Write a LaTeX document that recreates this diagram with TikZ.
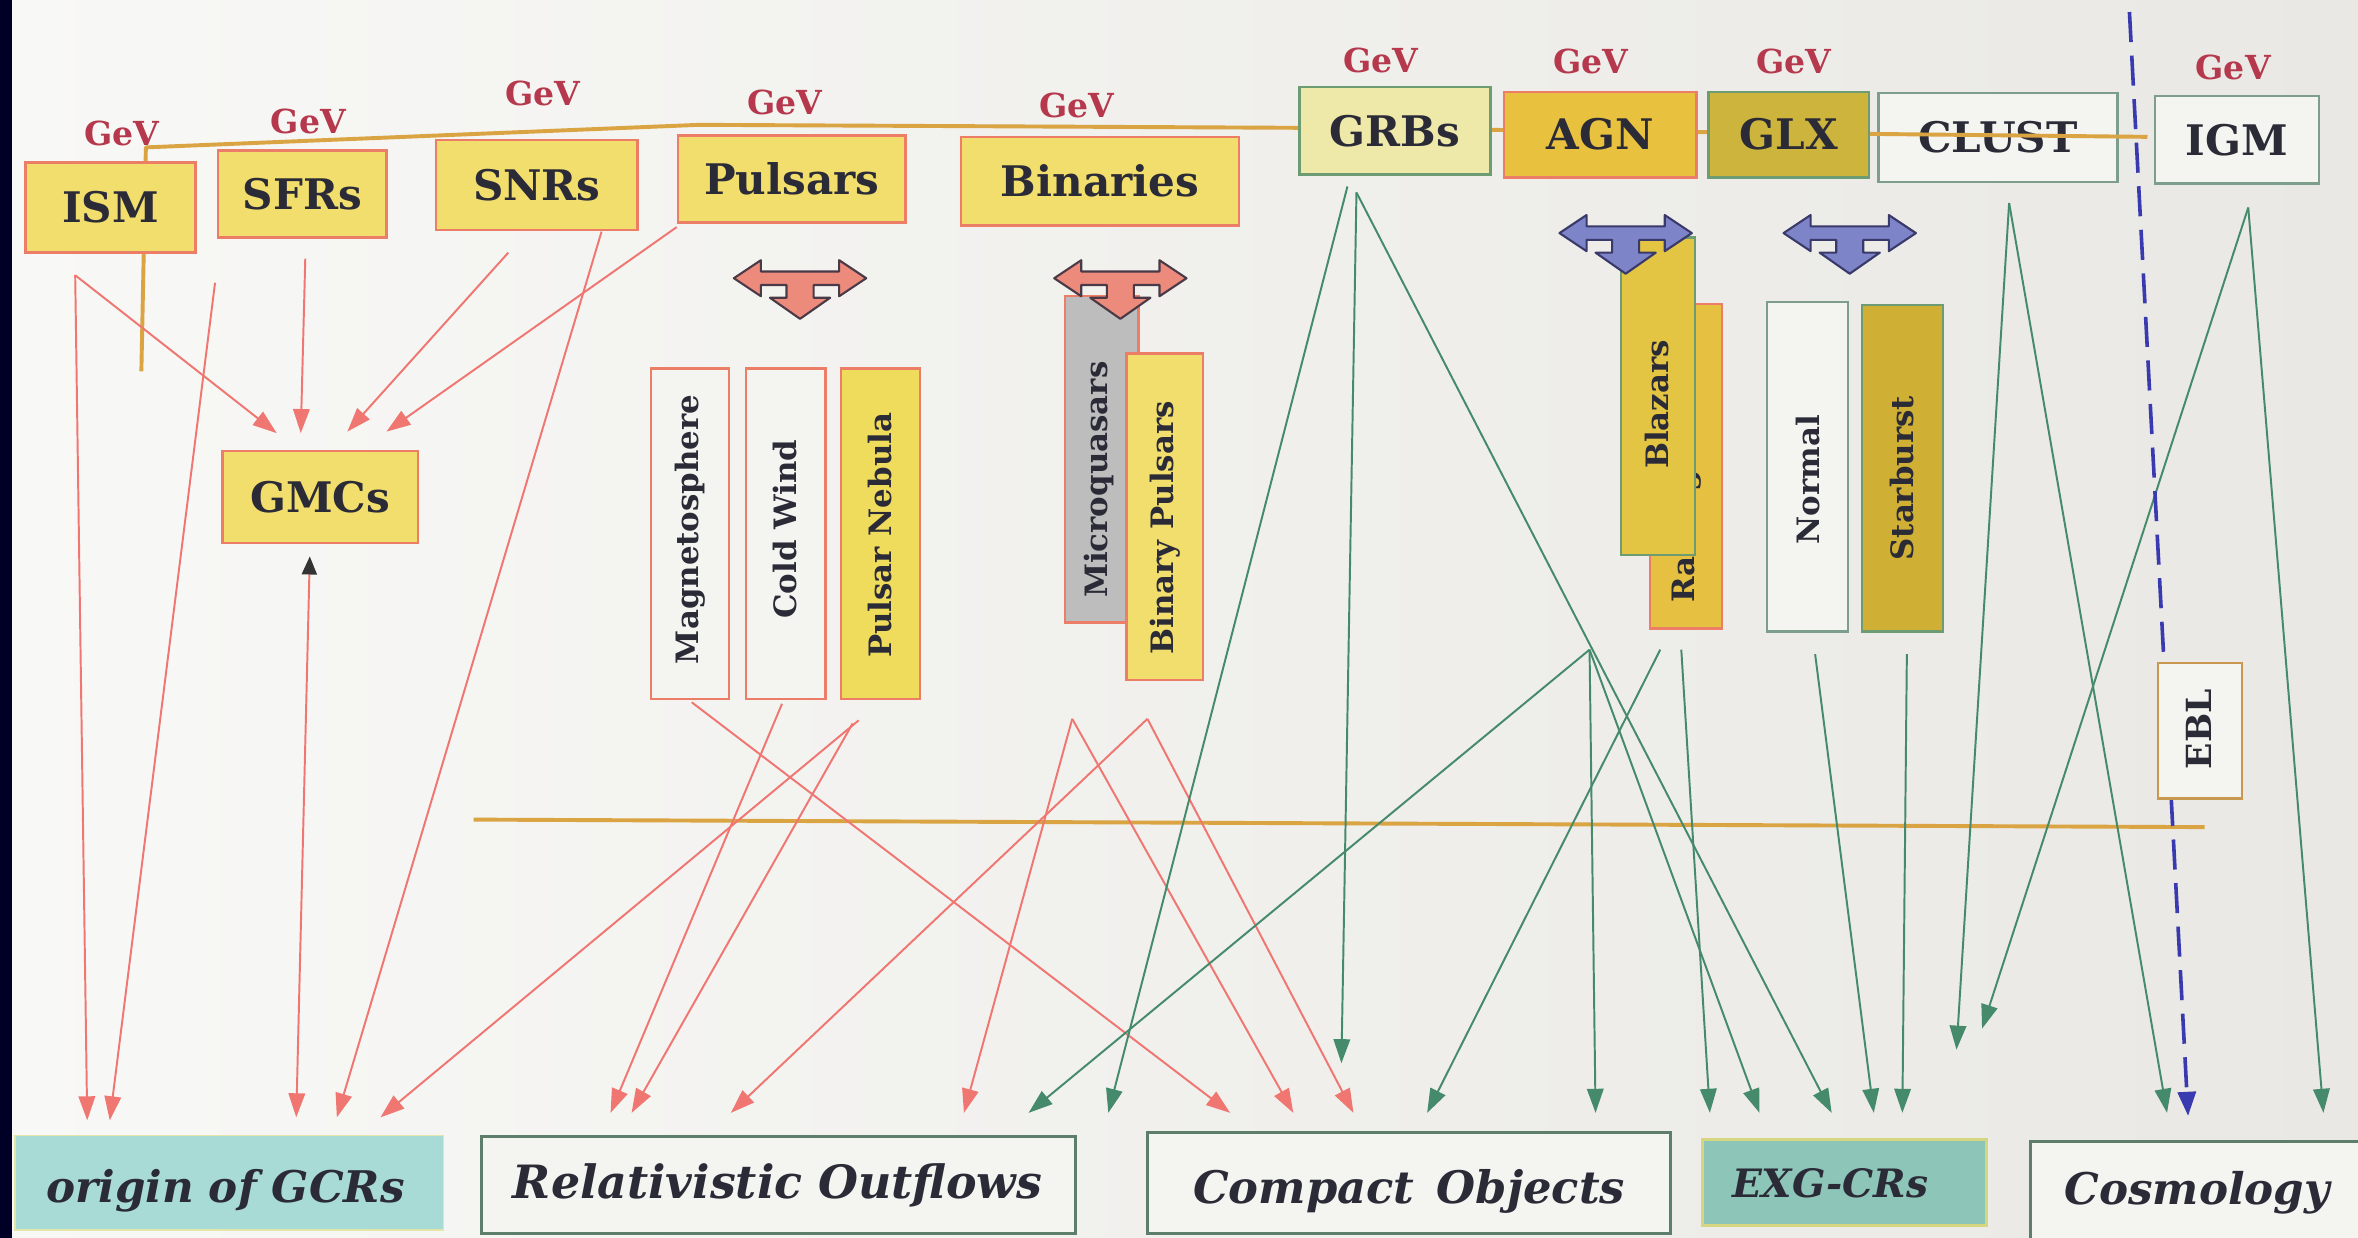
\documentclass[tikz,border=0pt]{standalone}
\usepackage{fontspec}
\setmainfont{DejaVu Serif}
\usetikzlibrary{arrows.meta}
\definecolor{bgl}{HTML}{F8F8F6}
\definecolor{bgr}{HTML}{E9E8E4}
\definecolor{byel}{HTML}{F2DE6C}
\definecolor{bred}{HTML}{EC7D66}
\definecolor{bgreen}{HTML}{6E9C72}
\definecolor{grbf}{HTML}{EEE9A8}
\definecolor{agnf}{HTML}{E8C23F}
\definecolor{glxf}{HTML}{CDB43C}
\definecolor{wbox}{HTML}{F4F4F0}
\definecolor{gbord}{HTML}{7E9E8C}
\definecolor{txt}{HTML}{2B2B38}
\definecolor{gevc}{HTML}{B5384C}
\definecolor{lred}{HTML}{F07672}
\definecolor{lgrn}{HTML}{468A6C}
\definecolor{orl}{HTML}{D9A441}
\definecolor{blu}{HTML}{3A3AB0}
\definecolor{tredf}{HTML}{EC8A7C}
\definecolor{tredd}{HTML}{4A3A48}
\definecolor{tbluf}{HTML}{7D84C8}
\definecolor{tblud}{HTML}{3A3A6A}
\definecolor{pnf}{HTML}{F0DC5C}
\definecolor{mqf}{HTML}{BDBDBD}
\definecolor{radf}{HTML}{E6C040}
\definecolor{blzf}{HTML}{E3C543}
\definecolor{sbf}{HTML}{CFB034}
\definecolor{eblb}{HTML}{C89850}
\definecolor{origf}{HTML}{A8DAD6}
\definecolor{origb}{HTML}{E3E6A8}
\definecolor{exgf}{HTML}{8DC5B8}
\definecolor{exgb}{HTML}{D6D680}
\definecolor{botb}{HTML}{5E7E6C}
\begin{document}
\begin{tikzpicture}[x=1pt,y=-1pt,
  tbox/.style={draw=bred, fill=byel, line width=1.6pt, inner sep=0pt, text=txt, font=\bfseries\fontsize{28}{30}\selectfont},
  vbox/.style={line width=1.5pt, inner sep=0pt},
  vlbl/.style={rotate=90, inner sep=0pt, text=txt, font=\bfseries\fontsize{20.5}{22}\selectfont},
  gev/.style={text=gevc, inner sep=0pt, font=\bfseries\fontsize{22}{24}\selectfont},
  bbox/.style={inner sep=0pt, line width=2pt},
  blbl/.style={inner sep=0pt, text=txt, font=\bfseries\itshape\fontsize{29}{31}\selectfont},
  rl/.style={draw=lred, line width=1.3pt, -{Triangle[length=16pt,width=11pt]}},
  gl/.style={draw=lgrn, line width=1.3pt, -{Triangle[length=16pt,width=11pt]}},
  tshape/.pic={\path[pic actions] (-44,0) -- (-26,-12) -- (-26,-4.5) -- (26,-4.5) -- (26,-12) -- (44,0) -- (26,12) -- (26,4.5) -- (9,4.5) -- (9,13) -- (20,13) -- (0,27) -- (-20,13) -- (-9,13) -- (-9,4.5) -- (-26,4.5) -- (-26,12) -- cycle;}
]
\useasboundingbox (0,0) rectangle (1568,823);
\shade[left color=bgl, right color=bgr] (0,0) rectangle (1568,823);

% lower orange line
\coordinate (olA) at (315,545);
\coordinate (olB) at (1466,550);
\draw[orl, line width=2.6pt] (olA) -- (olB);

% CLUST box under the top orange line
\node[tbox, draw=gbord, fill=wbox, minimum width=159pt, minimum height=59pt] (clu) at (1328.5,91.5) {CLUST};
\coordinate (ot0) at (94,247);
\coordinate (ot1) at (97,98);
\coordinate (ot2) at (465,83);
\coordinate (ot3) at (865,85);
\coordinate (ot4) at (1428,91);
\draw[orl, line width=2.6pt, line join=round] (ot0) -- (ot1) -- (ot2) -- (ot3) -- (ot4);

% top boxes
\node[tbox, minimum width=113pt, minimum height=60pt] (ism) at (73.5,138) {ISM};
\node[tbox, minimum width=112pt, minimum height=58pt] (sfr) at (201,129) {SFRs};
\node[tbox, minimum width=134pt, minimum height=60pt] (snr) at (357,123) {SNRs};
\node[tbox, minimum width=151pt, minimum height=58pt] (pul) at (526.5,119) {Pulsars};
\node[tbox, minimum width=185pt, minimum height=59pt] (bin) at (731.5,120.5) {Binaries};
\node[tbox, draw=bgreen, fill=grbf, minimum width=127pt, minimum height=58pt] (grb) at (927.5,87) {GRBs};
\node[tbox, fill=agnf, minimum width=128pt, minimum height=57pt] (agn) at (1064,89.5) {AGN};
\node[tbox, draw=bgreen, fill=glxf, minimum width=107pt, minimum height=57pt] (glx) at (1189.5,89.5) {GLX};
\node[tbox, draw=gbord, fill=wbox, minimum width=109pt, minimum height=58pt] (igm) at (1487.5,93) {IGM};
\node[tbox, minimum width=130pt, minimum height=61pt] (gmc) at (213,330.5) {GMCs};

% GeV labels
\node[gev] (gev1) at (81,89) {GeV};
\node[gev] (gev2) at (205,81) {GeV};
\node[gev] (gev3) at (361,62) {GeV};
\node[gev] (gev4) at (522,68) {GeV};
\node[gev] (gev5) at (716,70) {GeV};
\node[gev] (gev6) at (918,40) {GeV};
\node[gev] (gev7) at (1058,41) {GeV};
\node[gev] (gev8) at (1193,41) {GeV};
\node[gev] (gev9) at (1485,45) {GeV};

% vertical boxes
\node[vbox, draw=bred, fill=wbox, minimum width=52pt, minimum height=220pt] (mag) at (459,355) {};
\node[vlbl] (magT) at (459,352) {Magnetosphere};
\node[vbox, draw=bred, fill=wbox, minimum width=53pt, minimum height=220pt] (cw) at (522.5,355) {};
\node[vlbl] (cwT) at (522,352) {Cold Wind};
\node[vbox, draw=bred, fill=pnf, minimum width=53pt, minimum height=220pt] (pn) at (585.5,355) {};
\node[vlbl] (pnT) at (585,356) {Pulsar Nebula};
\node[vbox, draw=bred, fill=mqf, minimum width=49pt, minimum height=217pt] (mq) at (732.5,305.5) {};
\node[vlbl] (mqT) at (731,319) {Microquasars};
\node[vbox, draw=bred, fill=byel, minimum width=51pt, minimum height=217pt] (bp) at (774.5,343.5) {};
\node[vlbl] (bpT) at (775,351) {Binary Pulsars};
\node[vbox, draw=bred, fill=radf, minimum width=48pt, minimum height=216pt] (rad) at (1121,310) {};
\node[vlbl, anchor=west] (radT) at (1121,401) {Radio galaxies};
\node[vbox, draw=bgreen, fill=blzf, minimum width=49pt, minimum height=211pt] (blz) at (1102.5,263.5) {};
\node[vlbl] (blzT) at (1102,269) {Blazars};
\node[vbox, draw=gbord, fill=wbox, minimum width=54pt, minimum height=219pt] (nor) at (1202,310.5) {};
\node[vlbl] (norT) at (1202,319) {Normal};
\node[vbox, draw=bgreen, fill=sbf, minimum width=54pt, minimum height=217pt] (sb) at (1265,311.5) {};
\node[vlbl] (sbT) at (1265,318) {Starburst};

% T arrows
\pic[fill=tredf, draw=tredd, line width=1.4pt, line join=round] (tp1) at (532,185) {tshape};
\pic[fill=tredf, draw=tredd, line width=1.4pt, line join=round] (tp2) at (745,185) {tshape};
\pic[fill=tbluf, draw=tblud, line width=1.4pt, line join=round] (tp3) at (1081,155) {tshape};
\pic[fill=tbluf, draw=tblud, line width=1.4pt, line join=round] (tp4) at (1230,155) {tshape};

% start points
\coordinate (ismS) at (50,183);
\coordinate (sfrA) at (203,172);
\coordinate (sfrB) at (143,188);
\coordinate (snrA) at (338,168);
\coordinate (snrB) at (400,154);
\coordinate (pulA) at (450,151);
\coordinate (gmcU) at (206,370);
\coordinate (pnA) at (571,479);
\coordinate (pnB) at (567,481);
\coordinate (cwA) at (520,468);
\coordinate (magA) at (460,467);
\coordinate (mqA) at (713,478);
\coordinate (bpA) at (763,478);
\coordinate (grbA) at (896,124);
\coordinate (grbB) at (902,128);
\coordinate (blzA) at (1057,432);
\coordinate (radA) at (1104,432);
\coordinate (radB) at (1118,432);
\coordinate (norA) at (1207,435);
\coordinate (sbA) at (1268,435);
\coordinate (cluA) at (1336,135);
\coordinate (igmA) at (1495,138);
\coordinate (bluA) at (1416,8);
% end points
\coordinate (gm1) at (184,288);
\coordinate (gm2) at (200,288);
\coordinate (gm3) at (231,287);
\coordinate (gm4) at (257,287);
\coordinate (o1) at (58,745);
\coordinate (o2) at (73,745);
\coordinate (o3) at (197,743);
\coordinate (o4) at (224,743);
\coordinate (o5) at (253,743);
\coordinate (ro1) at (406,740);
\coordinate (ro2) at (420,740);
\coordinate (ro3) at (486,740);
\coordinate (ro4) at (641,740);
\coordinate (co1) at (818,740);
\coordinate (co2) at (860,740);
\coordinate (co3) at (900,740);
\coordinate (gA) at (737,740);
\coordinate (gB) at (892,707);
\coordinate (gC) at (1218,740);
\coordinate (gD) at (684,740);
\coordinate (gE) at (1061,740);
\coordinate (gF) at (1170,740);
\coordinate (gG) at (949,740);
\coordinate (gH) at (1137,740);
\coordinate (gI) at (1246,740);
\coordinate (gJ) at (1265,740);
\coordinate (gK) at (1301,698);
\coordinate (gL) at (1441,740);
\coordinate (gM) at (1318,684);
\coordinate (gN) at (1545,740);
\coordinate (bluB) at (1455,742);

% red connectors
\draw[rl] (ismS) -- (gm1);
\draw[rl] (ismS) -- (o1);
\draw[rl] (sfrA) -- (gm2);
\draw[rl] (sfrB) -- (o2);
\draw[rl] (snrA) -- (gm3);
\draw[rl] (snrB) -- (o4);
\draw[rl] (pulA) -- (gm4);
\draw[draw=lred, line width=1.3pt, {Triangle[length=12pt,width=10pt,color=black!80]}-{Triangle[length=16pt,width=11pt]}] (gmcU) -- (o3);
\draw[rl] (pnA) -- (o5);
\draw[rl] (pnB) -- (ro2);
\draw[rl] (cwA) -- (ro1);
\draw[rl] (magA) -- (co1);
\draw[rl] (mqA) -- (ro4);
\draw[rl] (mqA) -- (co2);
\draw[rl] (bpA) -- (ro3);
\draw[rl] (bpA) -- (co3);

% green connectors
\draw[gl] (grbA) -- (gA);
\draw[gl] (grbB) -- (gB);
\draw[gl] (grbB) -- (gC);
\draw[gl] (blzA) -- (gD);
\draw[gl] (blzA) -- (gE);
\draw[gl] (blzA) -- (gF);
\draw[gl] (radA) -- (gG);
\draw[gl] (radB) -- (gH);
\draw[gl] (norA) -- (gI);
\draw[gl] (sbA) -- (gJ);
\draw[gl] (cluA) -- (gK);
\draw[gl] (cluA) -- (gL);
\draw[gl] (igmA) -- (gM);
\draw[gl] (igmA) -- (gN);

% blue dashed line and EBL
\draw[blu, line width=2.4pt, dash pattern=on 20pt off 9pt, -{Triangle[length=16pt,width=12pt]}] (bluA) -- (bluB);
\node[vbox, draw=eblb, fill=wbox, minimum width=56pt, minimum height=90pt] (ebl) at (1463,486) {};
\node[vlbl, font=\bfseries\fontsize{23}{25}\selectfont] (eblT) at (1462,485) {EBL};

% bottom boxes
\node[bbox, draw=origb, fill=origf, line width=1pt, minimum width=285pt, minimum height=63pt] (ogcr) at (152.5,786.5) {};
\node[blbl] (ogcrT) at (150,792) {origin of GCRs};
\node[bbox, draw=botb, fill=wbox, minimum width=395pt, minimum height=64pt] (rout) at (517.5,788) {};
\node[blbl, font=\bfseries\itshape\fontsize{30.5}{32}\selectfont] (routT) at (517,788) {Relativistic Outflows};
\node[bbox, draw=botb, fill=wbox, minimum width=348pt, minimum height=67pt] (cobj) at (937,786.5) {};
\node[blbl, font=\bfseries\itshape\fontsize{29.8}{31}\selectfont] (cobjT) at (937,792) {Compact\hspace{0.5em}Objects};
\node[bbox, draw=exgb, fill=exgf, minimum width=189pt, minimum height=57pt] (exg) at (1226.5,786.5) {};
\node[blbl, font=\bfseries\itshape\fontsize{26}{28}\selectfont] (exgT) at (1217,787) {EXG-CRs};
\node[bbox, draw=botb, fill=wbox, minimum width=232pt, minimum height=66pt] (cosm) at (1466,792) {};
\node[blbl] (cosmT) at (1461,793) {Cosmology};

% dark photo edge
\fill[black!85!blue] (0,0) rectangle (8,823);
\end{tikzpicture}
\end{document}
